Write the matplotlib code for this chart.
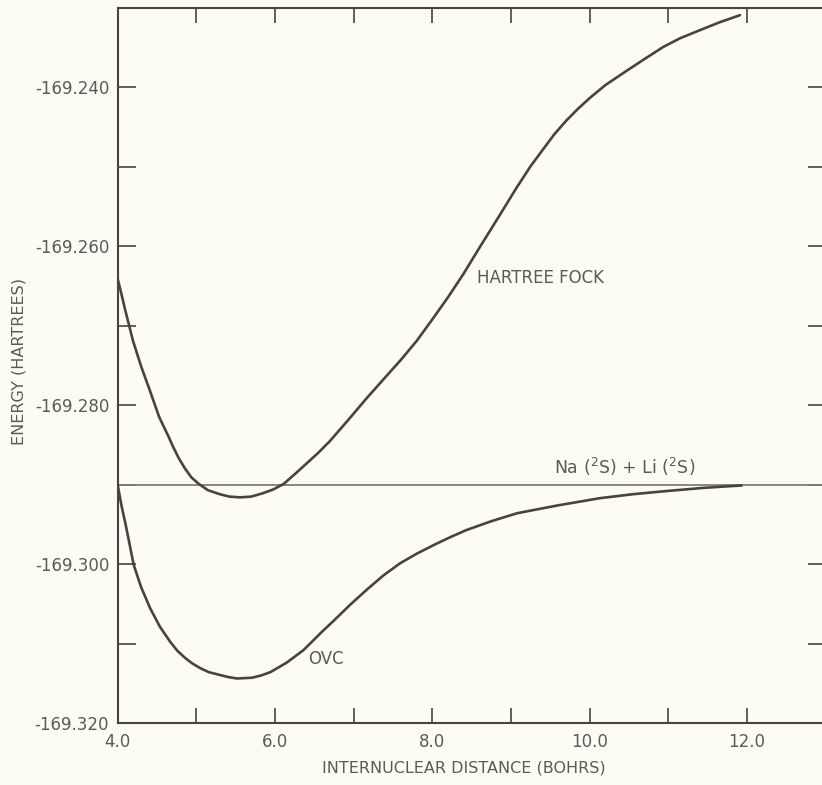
import matplotlib
matplotlib.use("Agg")
import matplotlib.pyplot as plt
from matplotlib.ticker import FixedLocator, FixedFormatter

# ---------------- data ----------------
hf_r = [4.00, 4.05, 4.095, 4.197, 4.30, 4.413, 4.53, 4.651, 4.705, 4.78,
        4.86, 4.94, 5.032, 5.15, 5.30, 5.42, 5.557, 5.70, 5.84, 5.98,
        6.112, 6.25, 6.395, 6.55, 6.700, 6.954, 7.15, 7.374, 7.60, 7.802,
        8.00, 8.20, 8.394, 8.585, 8.83, 9.072, 9.25, 9.407, 9.55, 9.70,
        9.85, 10.004, 10.20, 10.470, 10.70, 10.935, 11.15, 11.398, 11.65,
        11.910]
hf_e = [-169.2640, -169.2660, -169.2679, -169.2719, -169.2751, -169.2782,
        -169.2815, -169.2840, -169.2852, -169.2867, -169.2880, -169.2891,
        -169.2899, -169.2907, -169.2912, -169.2915, -169.2916, -169.2915,
        -169.2911, -169.2906, -169.2899, -169.2887, -169.2874, -169.2860,
        -169.2845, -169.2816, -169.2793, -169.2768, -169.2743, -169.2719,
        -169.2692, -169.2664, -169.2635, -169.2604, -169.2565, -169.2526,
        -169.2499, -169.2478, -169.2459, -169.2442, -169.2427, -169.2413,
        -169.2397, -169.2379, -169.2364, -169.2349, -169.2338, -169.2328,
        -169.2318, -169.2309]

ovc_r = [4.00, 4.05, 4.105, 4.206, 4.30, 4.417, 4.54, 4.671, 4.76, 4.858,
         4.95, 5.052, 5.16, 5.28, 5.40, 5.518, 5.71, 5.83, 5.942, 6.15,
         6.366, 6.60, 6.75, 6.958, 7.17, 7.382, 7.59, 7.80, 8.018, 8.23,
         8.437, 8.75, 9.076, 9.283, 9.60, 10.131, 10.55, 10.978, 11.45,
         11.931]
ovc_e = [-169.2899, -169.2926, -169.2951, -169.3001, -169.3029, -169.3056,
         -169.3079, -169.3098, -169.3109, -169.3118, -169.3125, -169.3131,
         -169.3136, -169.3139, -169.3142, -169.3144, -169.3143, -169.3140,
         -169.3136, -169.3124, -169.3108, -169.3085, -169.3071, -169.3051,
         -169.3032, -169.3014, -169.2999, -169.2987, -169.2976, -169.2966,
         -169.2957, -169.2946, -169.2936, -169.2932, -169.2926, -169.2917,
         -169.2912, -169.2908, -169.2904, -169.2901]

asymptote_e = -169.290

x_ticks = [4, 5, 6, 7, 8, 9, 10, 11, 12, 13]
x_tick_labels = ["4.0", "", "6.0", "", "8.0", "", "10.0", "", "12.0", ""]
y_ticks = [-169.320, -169.310, -169.300, -169.290, -169.280, -169.270,
           -169.260, -169.250, -169.240, -169.230]
y_tick_labels = ["-169.320", "", "-169.300", "", "-169.280", "",
                 "-169.260", "", "-169.240", ""]

# ---------------- styling ----------------
bg = "#fcfcf3"
ink = "#4a4144"
txt = "#5a5a5a"
plt.rcParams["font.family"] = ["DejaVu Sans"]

fig = plt.figure(figsize=(8.22, 7.85), dpi=100, facecolor=bg)
ax = fig.add_axes([117.5 / 822, 62 / 785, 708.3 / 822, 715 / 785])
ax.set_facecolor(bg)

ax.axhline(asymptote_e, color="#7d7d7d", lw=1.3, zorder=2)
ax.plot(hf_r, hf_e, color=ink, lw=1.9, solid_capstyle="round",
        solid_joinstyle="round", zorder=3)
ax.plot(ovc_r, ovc_e, color=ink, lw=1.9, solid_capstyle="round",
        solid_joinstyle="round", zorder=3)

ax.set_xlim(4, 13)
ax.set_ylim(-169.320, -169.230)

ax.xaxis.set_major_locator(FixedLocator(x_ticks))
ax.xaxis.set_major_formatter(FixedFormatter(x_tick_labels))
ax.yaxis.set_major_locator(FixedLocator(y_ticks))
ax.yaxis.set_major_formatter(FixedFormatter(y_tick_labels))

ax.tick_params(axis="x", which="both", direction="in", top=True, bottom=True,
               length=11, width=1.2, color=ink, labelsize=12,
               labelcolor=txt, pad=7)
ax.tick_params(axis="y", which="both", direction="in", left=True, right=True,
               length=13, width=1.2, color=ink, labelsize=12,
               labelcolor=txt, pad=6)

for s in ax.spines.values():
    s.set_color(ink)
    s.set_linewidth(1.5)

ax.text(8.57, -169.2640, "HARTREE FOCK", ha="left", va="center",
        fontsize=12, color=txt)
ax.text(6.42, -169.3119, "OVC", ha="left", va="center",
        fontsize=12, color=txt)
ax.text(11.34, -169.2886, r"Na ($^2$S) + Li ($^2$S)", ha="right",
        va="baseline", fontsize=12.5, color=txt)

fig.text(464 / 822, 1 - 768 / 785, "INTERNUCLEAR DISTANCE (BOHRS)",
         ha="center", va="center", fontsize=11.5, color=txt)
fig.text(18.5 / 822, 1 - 361.5 / 785, "ENERGY (HARTREES)", rotation=90,
         ha="center", va="center", fontsize=11.5, color=txt)

fig.savefig("out.png", dpi=100, facecolor=bg)
